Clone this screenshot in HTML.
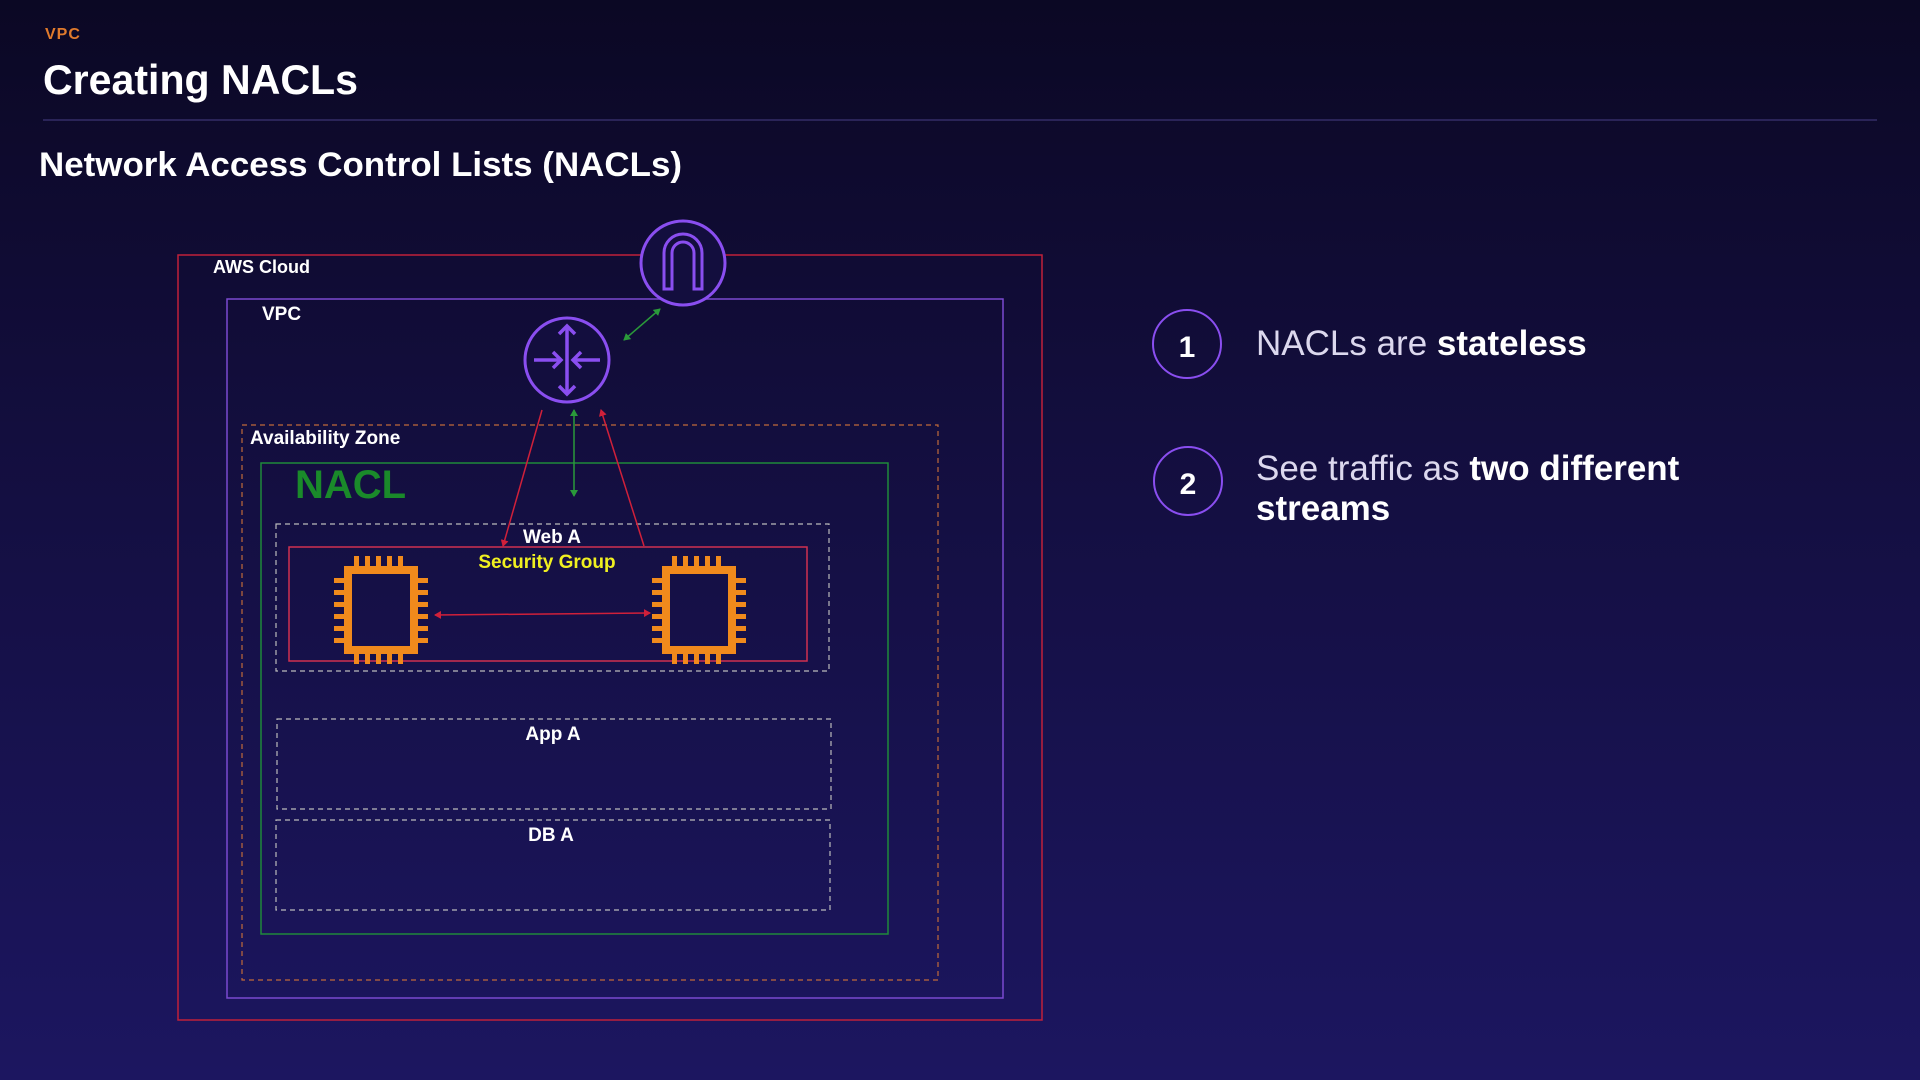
<!DOCTYPE html>
<html><head><meta charset="utf-8"><style>
html,body{margin:0;padding:0;width:1920px;height:1080px;overflow:hidden}
body{background:linear-gradient(180deg,#0b0824 0%,#130e3e 40%,#1c1660 100%);font-family:"Liberation Sans",sans-serif}
</style></head><body>
<svg width="1920" height="1080" xmlns="http://www.w3.org/2000/svg" style="position:absolute;left:0;top:0">
<defs>
<marker id="ar" markerWidth="8" markerHeight="8" refX="6" refY="4" orient="auto-start-reverse" markerUnits="userSpaceOnUse"><path d="M0,0 L7,4 L0,8 z" fill="#d0203a"/></marker>
<marker id="ag" markerWidth="8" markerHeight="8" refX="6" refY="4" orient="auto-start-reverse" markerUnits="userSpaceOnUse"><path d="M0,0 L7,4 L0,8 z" fill="#2a9a3a"/></marker>
<g id="chip" fill="#f08a1c">
<rect x="-33" y="-40" width="66" height="80" fill="none" stroke="#f08a1c" stroke-width="8"/>
<rect x="-27" y="-54" width="5" height="12"/><rect x="-16" y="-54" width="5" height="12"/><rect x="-5" y="-54" width="5" height="12"/><rect x="6" y="-54" width="5" height="12"/><rect x="17" y="-54" width="5" height="12"/>
<rect x="-27" y="42" width="5" height="12"/><rect x="-16" y="42" width="5" height="12"/><rect x="-5" y="42" width="5" height="12"/><rect x="6" y="42" width="5" height="12"/><rect x="17" y="42" width="5" height="12"/>
<rect x="-47" y="-32" width="12" height="5"/><rect x="-47" y="-20" width="12" height="5"/><rect x="-47" y="-8" width="12" height="5"/><rect x="-47" y="4" width="12" height="5"/><rect x="-47" y="16" width="12" height="5"/><rect x="-47" y="28" width="12" height="5"/>
<rect x="35" y="-32" width="12" height="5"/><rect x="35" y="-20" width="12" height="5"/><rect x="35" y="-8" width="12" height="5"/><rect x="35" y="4" width="12" height="5"/><rect x="35" y="16" width="12" height="5"/><rect x="35" y="28" width="12" height="5"/>
</g>
</defs>
<text x="45" y="39" fill="#e07a2c" font-size="16" font-weight="bold" letter-spacing="1">VPC</text>
<text x="43" y="94" fill="#fff" font-size="42" font-weight="bold" textLength="315" lengthAdjust="spacingAndGlyphs">Creating NACLs</text>
<line x1="43" y1="120" x2="1877" y2="120" stroke="#2a2458" stroke-width="2"/>
<text x="39" y="176" fill="#fff" font-size="34" font-weight="bold" textLength="643" lengthAdjust="spacingAndGlyphs">Network Access Control Lists (NACLs)</text>

<rect x="178" y="255" width="864" height="765" fill="none" stroke="#c0203a" stroke-width="1.5"/>
<text x="213" y="273" fill="#fff" font-size="18" font-weight="bold">AWS Cloud</text>
<rect x="227" y="299" width="776" height="699" fill="none" stroke="#7a4ad0" stroke-width="1.5"/>
<text x="262" y="320" fill="#fff" font-size="19" font-weight="bold">VPC</text>
<rect x="242" y="425" width="696" height="555" fill="none" stroke="#c06a3a" stroke-width="1.2" stroke-dasharray="5,4"/>
<text x="250" y="444" fill="#fff" font-size="19" font-weight="bold">Availability Zone</text>
<rect x="261" y="463" width="627" height="471" fill="none" stroke="#1f8a3a" stroke-width="1.5"/>
<text x="295" y="498" fill="#1a8a2a" font-size="40" font-weight="bold">NACL</text>
<rect x="276" y="524" width="553" height="147" fill="none" stroke="#bbb" stroke-width="1.2" stroke-dasharray="5,4"/>
<text x="552" y="543" fill="#fff" font-size="19" font-weight="bold" text-anchor="middle">Web A</text>
<rect x="289" y="547" width="518" height="114" fill="none" stroke="#d03050" stroke-width="1.5"/>
<text x="547" y="568" fill="#f0f020" font-size="19" font-weight="bold" text-anchor="middle">Security Group</text>
<use href="#chip" x="381" y="610"/>
<use href="#chip" x="699" y="610"/>
<line x1="435" y1="615" x2="650" y2="613" stroke="#d0203a" stroke-width="1.5" marker-start="url(#ar)" marker-end="url(#ar)"/>
<rect x="277" y="719" width="554" height="90" fill="none" stroke="#bbb" stroke-width="1.2" stroke-dasharray="5,4"/>
<text x="553" y="740" fill="#fff" font-size="19" font-weight="bold" text-anchor="middle">App  A</text>
<rect x="276" y="820" width="554" height="90" fill="none" stroke="#bbb" stroke-width="1.2" stroke-dasharray="5,4"/>
<text x="551" y="841" fill="#fff" font-size="19" font-weight="bold" text-anchor="middle">DB A</text>

<line x1="542" y1="410" x2="503" y2="546" stroke="#d0203a" stroke-width="1.5" marker-end="url(#ar)"/>
<line x1="644" y1="546" x2="601" y2="410" stroke="#d0203a" stroke-width="1.5" marker-end="url(#ar)"/>
<line x1="574" y1="410" x2="574" y2="496" stroke="#2a9a3a" stroke-width="1.5" marker-start="url(#ag)" marker-end="url(#ag)"/>
<line x1="624" y1="340" x2="660" y2="309" stroke="#2a9a3a" stroke-width="1.5" marker-start="url(#ag)" marker-end="url(#ag)"/>

<circle cx="683" cy="263" r="42" fill="#130e3e" stroke="#8a4ef0" stroke-width="3"/>
<path d="M664,289 V253 a19,19 0 0 1 38,0 V289 H694 V253 a11,11 0 0 0 -22,0 V289 Z" fill="none" stroke="#8a4ef0" stroke-width="3"/>
<circle cx="567" cy="360" r="42" fill="#130e3e" stroke="#8a4ef0" stroke-width="3"/>
<g stroke="#8a4ef0" stroke-width="3.5" fill="none">
<line x1="567" y1="326" x2="567" y2="394"/>
<polyline points="559,334 567,326 575,334"/><polyline points="559,386 567,394 575,386"/>
<line x1="534" y1="360" x2="561" y2="360"/><polyline points="553,352 561,360 553,368"/>
<line x1="600" y1="360" x2="573" y2="360"/><polyline points="581,352 573,360 581,368"/>
</g>

<circle cx="1187" cy="344" r="34" fill="none" stroke="#8a4ef0" stroke-width="2"/>
<text x="1187" y="357" fill="#fff" font-size="30" font-weight="bold" text-anchor="middle">1</text>
<text x="1256" y="355" fill="#dcd8ee" font-size="35">NACLs are <tspan fill="#fff" font-weight="bold">stateless</tspan></text>
<circle cx="1188" cy="481" r="34" fill="none" stroke="#8a4ef0" stroke-width="2"/>
<text x="1188" y="494" fill="#fff" font-size="30" font-weight="bold" text-anchor="middle">2</text>
<text x="1256" y="480" fill="#dcd8ee" font-size="35">See traffic as <tspan fill="#fff" font-weight="bold">two different</tspan></text>
<text x="1256" y="520" fill="#fff" font-size="35" font-weight="bold">streams</text>
</svg>
</body></html>
